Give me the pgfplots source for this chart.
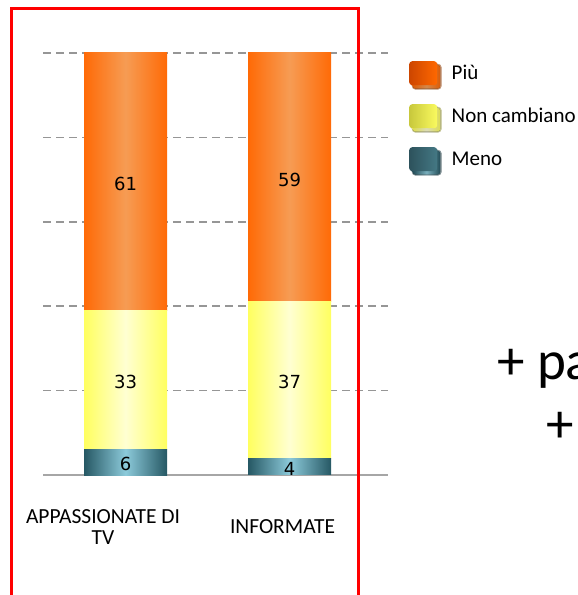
\documentclass[border=0pt]{standalone}
\usepackage{fontspec}
\setmainfont{Carlito}
\newfontfamily\numfont{DejaVu Sans}
\usepackage{pgfplots}
\pgfplotsset{compat=1.18}

\definecolor{orEdge}{RGB}{255,106,6}
\definecolor{orMid}{RGB}{246,156,84}
\definecolor{yeEdge}{RGB}{255,255,95}
\definecolor{yeMid}{RGB}{255,255,210}
\definecolor{teEdge}{RGB}{38,88,100}
\definecolor{teMid}{RGB}{140,202,218}
\definecolor{orDark}{RGB}{205,70,0}
\definecolor{orLight}{RGB}{255,104,0}
\definecolor{yeDark}{RGB}{200,200,60}
\definecolor{yeLight}{RGB}{250,250,95}
\definecolor{teDark}{RGB}{45,82,92}
\definecolor{teLight}{RGB}{68,120,132}
\definecolor{gridgray}{RGB}{150,150,150}
\definecolor{basegray}{RGB}{166,166,166}

\pgfplotsset{
  swatch/.style 2 args={legend image code/.code={
    \fill[black,opacity=0.35,rounded corners=4pt] (2.5pt,-16.5pt) rectangle (32.5pt,9.5pt);
    \fill[black,opacity=0.85,rounded corners=3pt] (3.5pt,-15.5pt) rectangle (31pt,8.5pt);
    \shade[left color=#1,right color=#2,rounded corners=3pt] (0pt,-12pt) rectangle (28pt,12pt);
  }},
  % middle color must come last, right color resets it
  seg/.style 2 args={draw=none, left color=#1, right color=#1, middle color=#2},
  % one axis per column, so each bar gets its own shading
  frame/.style={
    at={(43pt,120pt)}, anchor=south west,
    scale only axis, width=345pt, height=422pt,
    ybar stacked, bar width=83pt,
    xmin=-0.503, xmax=1.6, ymin=0, ymax=100,
    axis line style={draw=none}, tick style={draw=none},
  },
}
\tikzset{lab/.style={font=\numfont\fontsize{18}{20}\selectfont, yshift=-2pt}}

\begin{document}
\begin{tikzpicture}
\useasboundingbox (0,0) rectangle (578pt,595pt);
\begin{axis}[
  frame,
  xtick={-0.137,0.957},
  xticklabels={{APPASSIONATE DI\\TV},{INFORMATE}},
  xticklabel style={align=center, anchor=center, yshift=-52pt,
    font=\fontsize{21.5}{21}\selectfont},
  ytick={20,40,60,80,100}, yticklabels={},
  ymajorgrids,
  major grid style={gridgray, line width=1.5pt, dash pattern=on 8pt off 5pt},
  extra y ticks={0}, extra y tick labels={},
  extra y tick style={major grid style={solid, basegray, line width=2pt}},
  legend style={draw=none, fill=none, at={(1,1)}, anchor=north west,
    xshift=21pt, yshift=-8pt, inner sep=0pt, row sep=14.5pt,
    column sep=8pt, font=\fontsize{21}{24}\selectfont, cells={anchor=west}},
  legend cell align=left, reverse legend,
]
% APPASSIONATE DI TV
\addplot[seg={teEdge}{teMid}, swatch={teDark}{teLight}] coordinates {(0,6)};
\addplot[seg={yeEdge}{yeMid}, swatch={yeDark}{yeLight}] coordinates {(0,33)};
\addplot[seg={orEdge}{orMid}, swatch={orDark}{orLight}] coordinates {(0,61)};
\legend{Meno, Non cambiano, Più}
\coordinate (a61) at (axis cs:0,69.5);
\coordinate (a33) at (axis cs:0,22.5);
\coordinate (a6) at (axis cs:0,3);
\end{axis}
\begin{axis}[frame, xtick=\empty, ytick=\empty]
% INFORMATE
\addplot[seg={teEdge}{teMid}] coordinates {(1,4)};
\addplot[seg={yeEdge}{yeMid}] coordinates {(1,37)};
\addplot[seg={orEdge}{orMid}] coordinates {(1,59)};
\coordinate (b59) at (axis cs:1,70.5);
\coordinate (b37) at (axis cs:1,22.5);
\coordinate (b4) at (axis cs:1,2);
\end{axis}
\node[lab] at (a61) {61};
\node[lab] at (a33) {33};
\node[lab] at (a6) {6};
\node[lab] at (b59) {59};
\node[lab] at (b37) {37};
\node[lab] at (b4) {4};
\draw[red, line width=3.5pt] (11.5pt,-10pt) -- (11.5pt,586.5pt) -- (358.5pt,586.5pt) -- (358.5pt,-10pt);
\node[anchor=base west, inner sep=0pt, font=\fontsize{55}{60}\selectfont] at (497pt,215pt) {+ pa};
\node[anchor=base west, inner sep=0pt, font=\fontsize{55}{60}\selectfont] at (546pt,152pt) {+};
\end{tikzpicture}
\end{document}
